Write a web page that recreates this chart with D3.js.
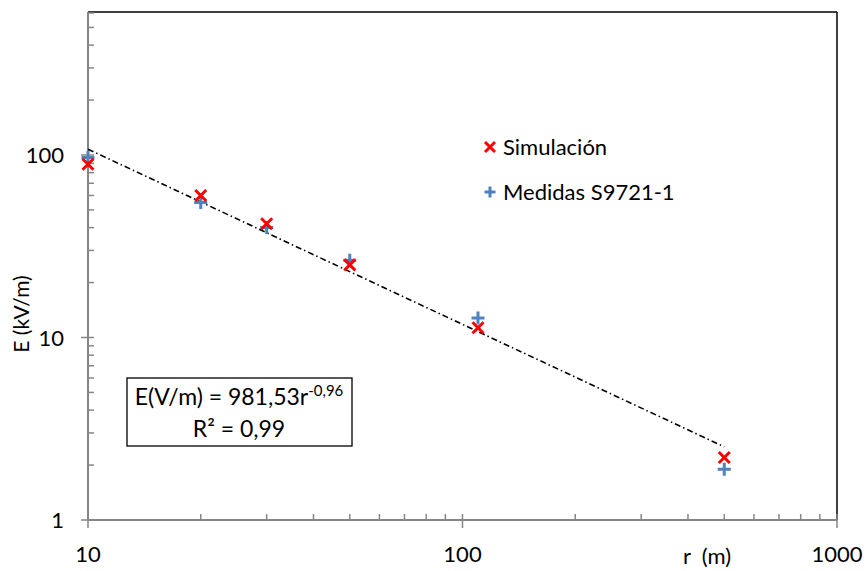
<!DOCTYPE html>
<html>
<head>
<meta charset="utf-8">
<script src="https://cdn.jsdelivr.net/npm/d3@7/dist/d3.min.js"></script>
<style>
  html, body { margin: 0; padding: 0; background: #fff; }
  svg { display: block; font-family: Lato, "Open Sans", sans-serif; }
</style>
</head>
<body>
<svg id="chart" width="868" height="571"></svg>
<script>
// Distance from the source (m)
const distances = [10, 20, 30, 50, 110, 500];
// Field strength, simulation (kV/m)
const simulacion = [89, 60, 42, 25, 11.3, 2.2];
// Field strength, S9721-1 measurements (kV/m)
const medidas = [97, 55, 40, 26.5, 12.8, 1.9];
// Power-law fit E = a·r^b
const fitA = 981.53;
const fitB = -0.96;
const fitRange = [10, 500];
const xTickLabels = ["10", "100", "1000"];
const yTickLabels = ["1", "10", "100"];
const seriesNames = ["Simulación", "Medidas S9721-1"];

const svg = d3.select("#chart");
const mLeft = 88, mRight = 837, mBottom = 520, mTop = 12;
const decade = 182.5;

const x = d3.scaleLog().domain([10, 1000]).range([mLeft, mRight]);
const y = d3.scaleLog().domain([1, 1000]).range([mBottom, mBottom - 3 * decade]);

const axisColor = "#868686";
const red = "#FF0000";
const blue = "#4F81BD";

// Frame: top and right edges in black
svg.append("line").attr("x1", mLeft).attr("x2", mRight).attr("y1", mTop).attr("y2", mTop)
  .attr("stroke", "#000").attr("stroke-width", 1.5);
svg.append("line").attr("x1", mRight).attr("x2", mRight).attr("y1", mTop).attr("y2", mBottom)
  .attr("stroke", "#000").attr("stroke-width", 1.5);

// Minor ticks for each decade (2..9)
function minorValues(lo, hi) {
  const out = [];
  for (let d = lo; d < hi; d *= 10)
    for (let k = 2; k <= 9; k++) out.push(d * k);
  return out;
}

const yMinor = minorValues(1, 1000).filter(v => y(v) >= mTop);
svg.append("g").selectAll("line").data(yMinor).join("line")
  .attr("x1", mLeft).attr("x2", mLeft + 6)
  .attr("y1", d => y(d)).attr("y2", d => y(d))
  .attr("stroke", axisColor).attr("stroke-width", 1.5);

const xMinor = minorValues(10, 1000);
svg.append("g").selectAll("line").data(xMinor).join("line")
  .attr("x1", d => x(d)).attr("x2", d => x(d))
  .attr("y1", mBottom).attr("y2", mBottom - 6)
  .attr("stroke", axisColor).attr("stroke-width", 1.5);

// Major ticks
const yMajor = yTickLabels.map(Number);
svg.append("g").selectAll("line").data(yMajor).join("line")
  .attr("x1", mLeft - 7).attr("x2", mLeft + 6)
  .attr("y1", d => y(d)).attr("y2", d => y(d))
  .attr("stroke", axisColor).attr("stroke-width", 1.5);
const xMajor = xTickLabels.map(Number);
svg.append("g").selectAll("line").data(xMajor).join("line")
  .attr("x1", d => x(d)).attr("x2", d => x(d))
  .attr("y1", mBottom - 6).attr("y2", mBottom + 8)
  .attr("stroke", axisColor).attr("stroke-width", 1.5);

// Axis lines
svg.append("line").attr("x1", mLeft).attr("x2", mLeft).attr("y1", mTop).attr("y2", mBottom)
  .attr("stroke", axisColor).attr("stroke-width", 2);
svg.append("line").attr("x1", mLeft).attr("x2", mRight).attr("y1", mBottom).attr("y2", mBottom)
  .attr("stroke", axisColor).attr("stroke-width", 2);

// Tick labels
svg.append("g").selectAll("text").data(yTickLabels).join("text")
  .attr("x", 64).attr("y", d => y(+d) + 8)
  .attr("text-anchor", "end").attr("font-size", 22).attr("fill", "#000")
  .text(d => d);
svg.append("g").selectAll("text").data(xTickLabels).join("text")
  .attr("x", d => x(+d)).attr("y", 562)
  .attr("text-anchor", "middle").attr("font-size", 22).attr("fill", "#000")
  .text(d => d);

// Axis titles
svg.append("text").attr("x", 683).attr("y", 564).attr("font-size", 22)
  .attr("xml:space", "preserve").style("white-space", "pre").text("r  (m)");
svg.append("text").attr("transform", "translate(29,314) rotate(-90)")
  .attr("text-anchor", "middle").attr("font-size", 21).text("E (kV/m)");

// Power-law trend line, dash-dot
const line = d3.line().x(d => x(d[0])).y(d => y(d[1]));
const fitPts = fitRange.map(r => [r, fitA * Math.pow(r, fitB)]);
svg.append("path").datum(fitPts).attr("d", line)
  .attr("fill", "none").attr("stroke", "#000").attr("stroke-width", 1.6)
  .attr("stroke-dasharray", "6,3,1.5,3");

// Marker shapes
function crossPath(s) { return `M${-s},${-s}L${s},${s}M${-s},${s}L${s},${-s}`; }
function plusPath(s) { return `M${-s},0L${s},0M0,${-s}L0,${s}`; }

// Measurements (+)
svg.append("g").selectAll("path").data(distances.map((r, i) => [r, medidas[i]])).join("path")
  .attr("transform", d => `translate(${x(d[0])},${y(d[1])})`)
  .attr("d", plusPath(6.5)).attr("stroke", blue).attr("stroke-width", 3).attr("fill", "none");
// Simulation (x)
svg.append("g").selectAll("path").data(distances.map((r, i) => [r, simulacion[i]])).join("path")
  .attr("transform", d => `translate(${x(d[0])},${y(d[1])})`)
  .attr("d", crossPath(5.5)).attr("stroke", red).attr("stroke-width", 3).attr("fill", "none");

// Legend
const legend = svg.append("g");
legend.append("path").attr("transform", "translate(490,147)")
  .attr("d", crossPath(5)).attr("stroke", red).attr("stroke-width", 3).attr("fill", "none");
legend.append("path").attr("transform", "translate(490,192)")
  .attr("d", plusPath(5.5)).attr("stroke", blue).attr("stroke-width", 3).attr("fill", "none");
legend.append("text").attr("x", 503).attr("y", 155).attr("font-size", 22).text(seriesNames[0]);
legend.append("text").attr("x", 503).attr("y", 200).attr("font-size", 22).text(seriesNames[1]);

// Fit equation box
svg.append("rect").attr("x", 127).attr("y", 378).attr("width", 225).attr("height", 68)
  .attr("fill", "#fff").attr("stroke", "#000").attr("stroke-width", 1.3);
const eq = svg.append("text").attr("x", 239).attr("y", 405)
  .attr("text-anchor", "middle").attr("font-size", 23);
eq.append("tspan").text("E(V/m) = " + String(fitA).replace(".", ",") + "r");
eq.append("tspan").attr("font-size", 15).attr("dy", -9)
  .text(String(fitB).replace(".", ","));
svg.append("text").attr("x", 239).attr("y", 437).attr("text-anchor", "middle")
  .attr("font-size", 23).text("R² = 0,99");
</script>
</body>
</html>
